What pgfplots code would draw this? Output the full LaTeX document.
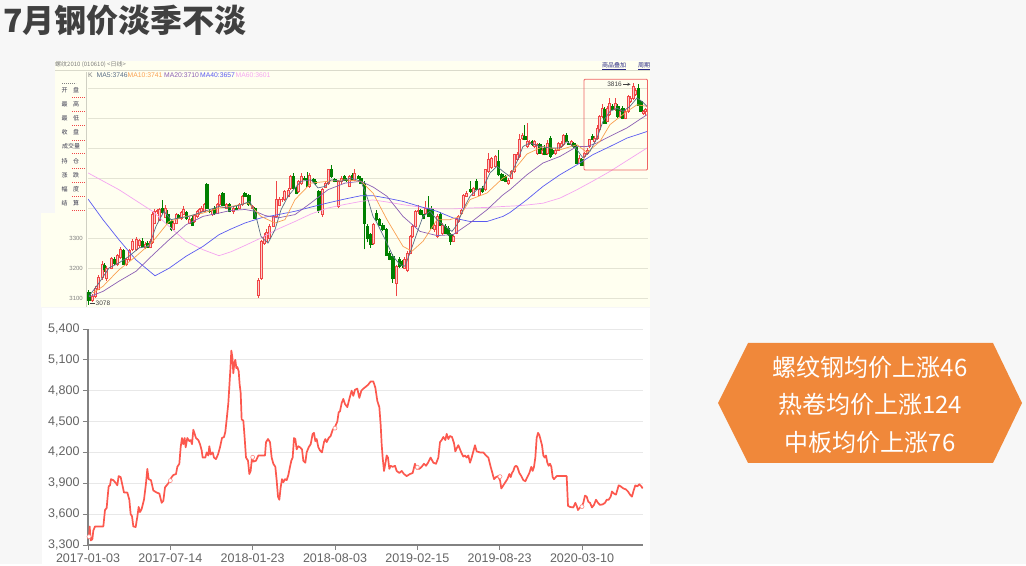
\documentclass[border=0pt]{standalone}
\usepackage{pgfplots}
\pgfplotsset{compat=1.18}
\usepackage{pgfplotstable}
\usepackage{fontspec}
\setmainfont{Liberation Sans}
\newfontfamily\cjk{Noto Sans CJK SC}

\definecolor{pagebg}{RGB}{247,247,247}
\definecolor{ivory}{RGB}{255,255,240}
\definecolor{ivgrid}{RGB}{228,228,212}
\definecolor{titlegray}{RGB}{64,64,64}
\definecolor{cred}{RGB}{240,70,70}
\definecolor{cpink}{RGB}{252,205,205}
\definecolor{cgreen}{RGB}{0,128,0}
\definecolor{ma5}{RGB}{90,110,135}
\definecolor{ma10}{RGB}{250,160,80}
\definecolor{ma20}{RGB}{140,95,180}
\definecolor{ma40}{RGB}{90,90,240}
\definecolor{ma60}{RGB}{245,165,240}
\definecolor{linered}{RGB}{252,88,78}
\definecolor{axisgray}{RGB}{130,130,130}
\definecolor{gridgray}{RGB}{232,232,232}
\definecolor{labgray}{RGB}{100,100,100}
\definecolor{hexorange}{RGB}{240,136,58}
\definecolor{boxred}{RGB}{240,100,100}
\definecolor{paneltext}{RGB}{60,60,80}

\pgfdeclareplotmark{nomark}{}

% candles: x position, open, high, low, close
\pgfplotstableread{
x o h l c
88.7 3118 3125 3078 3092
92.0 3092 3112 3085 3105
95.3 3105 3140 3100 3132
98.7 3130 3175 3125 3168
102.0 3168 3222 3160 3212
104.3 3210 3215 3188 3195
106.7 3165 3205 3158 3198
111.0 3200 3238 3195 3232
114.3 3230 3235 3210 3215
117.7 3212 3248 3205 3242
120.0 3235 3270 3230 3262
123.3 3258 3262 3210 3214
126.7 3212 3232 3205 3228
129.3 3230 3262 3222 3258
132.7 3262 3295 3255 3288
136.0 3262 3302 3258 3296
139.3 3275 3298 3265 3292
142.0 3290 3300 3270 3274
145.3 3268 3285 3262 3280
147.7 3282 3290 3266 3270
150.0 3270 3295 3265 3288
152.3 3285 3385 3280 3378
154.7 3350 3395 3345 3390
157.0 3388 3398 3380 3392
159.3 3360 3400 3355 3395
162.0 3398 3428 3380 3385
165.0 3370 3410 3365 3400
167.7 3378 3392 3345 3350
171.0 3355 3360 3322 3330
173.3 3330 3355 3325 3350
176.0 3350 3382 3345 3378
178.7 3376 3380 3362 3366
181.3 3365 3390 3360 3385
183.7 3380 3405 3375 3395
186.3 3385 3390 3360 3365
189.3 3350 3370 3345 3362
192.0 3367 3372 3340 3344
194.7 3355 3380 3350 3375
197.0 3372 3392 3365 3388
199.3 3383 3400 3378 3395
201.7 3390 3405 3385 3400
204.3 3389 3415 3385 3411
206.7 3478 3482 3395 3400
209.3 3390 3398 3382 3388
212.0 3378 3398 3372 3394
214.3 3400 3405 3378 3383
217.0 3383 3415 3380 3411
219.3 3411 3448 3408 3444
222.7 3450 3453 3405 3408
226.0 3400 3418 3395 3411
229.3 3411 3415 3385 3389
233.0 3389 3405 3380 3400
236.3 3398 3405 3392 3396
239.7 3400 3415 3395 3411
242.0 3411 3442 3408 3439
244.7 3450 3452 3436 3439
248.7 3444 3448 3408 3411
252.0 3400 3410 3395 3405
254.7 3400 3402 3362 3367
258.0 3110 3165 3100 3160
261.3 3165 3292 3160 3290
264.0 3283 3318 3278 3305
266.7 3290 3330 3285 3320
269.3 3300 3345 3295 3340
273.0 3340 3375 3335 3372
276.3 3372 3490 3368 3428
279.7 3410 3435 3405 3428
282.3 3428 3435 3420 3430
284.7 3428 3460 3425 3455
288.0 3440 3466 3435 3460
290.7 3466 3510 3460 3505
293.3 3505 3515 3462 3466
296.3 3466 3470 3445 3450
298.7 3455 3492 3450 3489
301.3 3483 3515 3478 3505
304.0 3500 3508 3492 3496
307.3 3500 3520 3470 3474
309.7 3472 3515 3468 3510
313.0 3495 3500 3485 3490
315.3 3488 3495 3478 3484
318.7 3455 3460 3383 3394
322.0 3378 3465 3370 3461
325.3 3470 3490 3465 3483
328.7 3483 3530 3478 3528
331.3 3528 3544 3500 3505
334.7 3495 3500 3485 3490
338.0 3405 3492 3400 3489
341.3 3489 3505 3480 3500
344.0 3505 3510 3490 3494
346.7 3494 3500 3485 3492
349.7 3472 3510 3470 3505
352.3 3510 3515 3490 3494
354.7 3494 3530 3490 3516
358.0 3505 3510 3495 3500
360.7 3500 3505 3480 3483
364.0 3483 3490 3262 3350
367.3 3340 3345 3285 3300
370.7 3311 3315 3268 3280
373.7 3283 3350 3278 3345
376.3 3383 3394 3355 3361
379.3 3361 3365 3340 3344
382.7 3344 3350 3322 3328
386.0 3328 3332 3240 3244
389.3 3250 3255 3225 3228
392.7 3239 3245 3150 3167
396.0 3150 3210 3106 3206
399.3 3228 3235 3200 3206
402.0 3222 3228 3200 3210
404.5 3200 3235 3195 3228
407.0 3194 3255 3185 3250
410.0 3250 3310 3245 3305
412.7 3305 3345 3300 3339
415.0 3339 3392 3335 3389
418.3 3389 3411 3380 3394
420.7 3394 3398 3375 3378
423.0 3378 3380 3362 3367
425.7 3383 3422 3378 3400
428.3 3400 3439 3370 3372
431.7 3400 3405 3330 3333
434.3 3328 3350 3320 3344
436.9 3305 3380 3300 3372
440.0 3378 3385 3340 3344
442.7 3317 3350 3310 3344
445.3 3339 3345 3315 3317
448.0 3333 3340 3305 3311
450.7 3311 3315 3278 3289
453.3 3289 3310 3285 3305
456.0 3317 3365 3312 3361
458.7 3355 3378 3350 3372
461.0 3383 3400 3378 3394
463.7 3400 3448 3395 3444
466.3 3440 3455 3435 3450
470.0 3461 3490 3450 3455
473.3 3444 3470 3440 3467
476.3 3489 3495 3460 3461
479.3 3444 3465 3440 3461
482.0 3467 3472 3450 3455
485.0 3461 3530 3455 3528
488.3 3522 3583 3518 3561
491.7 3535 3570 3530 3567
495.0 3539 3575 3535 3572
498.3 3555 3594 3505 3511
501.7 3511 3515 3490 3494
505.0 3505 3510 3485 3489
508.3 3483 3500 3478 3494
511.7 3500 3528 3495 3522
514.3 3522 3580 3518 3578
516.9 3561 3585 3555 3578
519.5 3572 3645 3565 3628
522.0 3633 3650 3628 3644
524.5 3639 3678 3625 3628
527.0 3605 3683 3600 3622
529.5 3616 3625 3610 3620
532.0 3622 3628 3605 3611
534.5 3605 3628 3600 3622
537.0 3583 3616 3578 3611
539.5 3611 3618 3580 3583
542.0 3583 3600 3575 3594
544.5 3600 3610 3575 3578
547.0 3583 3625 3578 3616
550.0 3633 3640 3565 3572
552.7 3594 3600 3575 3583
555.5 3583 3600 3578 3594
558.3 3594 3620 3590 3616
561.0 3605 3622 3600 3616
563.5 3611 3648 3605 3644
566.0 3644 3650 3620 3622
568.5 3616 3622 3610 3614
571.0 3611 3625 3605 3622
573.5 3616 3620 3600 3605
576.0 3605 3610 3545 3550
579.0 3550 3575 3545 3567
581.7 3561 3565 3540 3544
584.3 3572 3585 3565 3583
587.0 3583 3600 3578 3594
589.5 3605 3630 3600 3628
592.0 3639 3645 3625 3628
594.5 3622 3640 3615 3633
597.0 3633 3675 3628 3667
599.5 3661 3710 3655 3705
602.0 3705 3745 3700 3733
604.5 3728 3735 3680 3683
607.0 3689 3740 3685 3733
609.7 3711 3765 3705 3750
612.3 3739 3745 3725 3728
615.0 3728 3765 3725 3750
617.5 3739 3745 3700 3705
620.0 3705 3730 3700 3722
622.7 3733 3740 3695 3700
625.3 3700 3728 3695 3722
628.0 3722 3775 3718 3772
630.5 3755 3772 3750 3767
633.0 3767 3816 3760 3805
635.5 3778 3800 3775 3794
638.0 3800 3812 3740 3744
640.5 3755 3760 3720 3722
643.0 3716 3725 3710 3722
645.5 3722 3733 3705 3728
}\candles

% rebar price, x in chart position units
\pgfplotstableread{
x y
147 3380
149 3480
152 3345
157 3355
160 3440
165 3480
190 3480
195 3640
200 3660
203 3770
206 3870
210 3880
213 3940
220 3930
228 3900
232 3880
236 3970
242 3960
248 3870
252 3810
262 3810
268 3740
272 3600
276 3580
280 3480
287 3475
292 3575
296 3670
300 3620
305 3650
312 3740
318 3900
322 4040
326 3940
333 3930
340 3830
350 3810
358 3800
365 3710
370 3730
375 3860
380 3880
385 3900
390 3930
395 3960
400 3980
408 3990
412 4060
418 4090
422 4250
426 4340
430 4280
434 4340
437 4250
442 4340
448 4310
452 4320
456 4280
460 4420
464 4380
468 4340
475 4320
480 4280
485 4220
488 4150
496 4150
500 4200
505 4170
508 4260
512 4180
518 4200
522 4150
528 4135
534 4180
540 4250
546 4340
552 4350
556 4400
560 4520
565 4680
568 4840
571 5000
574 5190
577 5130
580 4970
583 5070
586 5100
589 5020
592 5030
596 4990
599 4860
602 4780
605 4520
610 4510
614 4340
618 4150
624 4120
628 3990
632 4020
636 4150
640 4110
648 4120
655 4170
675 4170
678 4300
684 4330
690 4300
695 4150
700 4090
706 4060
710 3930
714 3770
718 3740
722 3860
726 3940
730 3910
735 3940
740 3930
745 3980
750 4060
754 4120
758 4150
762 4340
766 4330
770 4230
775 4260
780 4250
786 4230
790 4120
796 4100
800 4200
806 4250
812 4280
818 4380
822 4390
826 4310
830 4330
835 4250
840 4220
846 4200
852 4300
856 4330
860 4300
866 4340
872 4360
878 4420
884 4440
888 4470
892 4500
896 4590
900 4600
905 4680
910 4720
915 4670
922 4640
928 4720
935 4800
940 4750
945 4810
952 4820
958 4730
964 4800
970 4820
978 4840
985 4860
992 4890
1000 4890
1006 4830
1012 4700
1018 4640
1022 4470
1025 4280
1028 4150
1032 4020
1036 4090
1040 4170
1044 4150
1048 4040
1052 4070
1058 4060
1065 4070
1070 4020
1078 4000
1085 4020
1092 3990
1100 3970
1110 3990
1118 4000
1125 4090
1130 4040
1138 4040
1145 4060
1152 4090
1158 4070
1164 4100
1172 4150
1180 4100
1188 4090
1195 4150
1200 4300
1205 4320
1210 4350
1216 4320
1220 4380
1225 4330
1230 4360
1236 4350
1242 4290
1246 4210
1250 4240
1255 4270
1260 4230
1265 4190
1270 4160
1275 4170
1280 4150
1285 4170
1290 4100
1295 4150
1300 4210
1305 4270
1310 4210
1320 4200
1330 4200
1338 4170
1345 4150
1352 4060
1358 3990
1362 3940
1368 3960
1374 3970
1380 3930
1384 3850
1390 3880
1396 3910
1402 3940
1408 3990
1412 3960
1416 4000
1420 4020
1424 4060
1428 4070
1432 4060
1438 4000
1444 3970
1450 3930
1456 3920
1462 3960
1468 4000
1474 4060
1478 4020
1482 4060
1486 4150
1490 4340
1494 4390
1498 4370
1502 4320
1506 4270
1510 4170
1514 4150
1518 4170
1522 4100
1526 4070
1530 4090
1534 4060
1538 3960
1542 3940
1550 3970
1580 3970
1584 3680
1590 3670
1600 3665
1606 3710
1610 3680
1614 3640
1620 3665
1626 3680
1630 3710
1635 3780
1640 3770
1645 3720
1650 3710
1656 3665
1662 3690
1668 3740
1674 3710
1680 3690
1688 3695
1695 3710
1700 3740
1706 3740
1712 3770
1716 3820
1722 3800
1728 3790
1736 3880
1742 3870
1750 3850
1758 3840
1764 3820
1770 3790
1776 3770
1780 3820
1786 3880
1792 3870
1798 3890
1804 3870
1808 3850
}\steel

\pgfplotsset{
  candle/.style={
    only marks, mark=nomark, scatter, point meta=y,
    visualization depends on={\thisrow{o} \as \vo},
    visualization depends on={\thisrow{h} \as \vh},
    visualization depends on={\thisrow{l} \as \vl},
    visualization depends on={\thisrow{c} \as \vc},
    scatter/@pre marker code/.code={%
      \pgfmathsetmacro\wtop{(\vh-\vl)*0.3}%
      \pgfmathsetmacro\bbot{(min(\vo,\vc)-\vl)*0.3}%
      \pgfmathsetmacro\btop{(max(\vo,\vc)-\vl)*0.3}%
      \ifdim\vc pt<\vo pt
        \draw[cgreen,line width=0.7pt] (0pt,0pt) -- (0pt,\wtop pt);
        \fill[cgreen] (-1.2pt,\bbot pt) rectangle (1.2pt,\btop pt);
      \else
        \draw[cred,line width=0.6pt] (0pt,0pt) -- (0pt,\bbot pt);
        \draw[cred,line width=0.6pt] (0pt,\btop pt) -- (0pt,\wtop pt);
        \draw[cred,fill=cpink,line width=0.55pt] (-1.05pt,\bbot pt) rectangle (1.05pt,\btop pt);
      \fi
    },
    scatter/@post marker code/.code={}
  },
  kpanel/.style={
    at={(88pt,257pt)}, anchor=south west, scale only axis,
    width=560pt, height=237pt,
    xmin=88, xmax=648, ymin=3070, ymax=3860,
    axis line style={draw=none}, tick style={draw=none},
    xtick=\empty, ytick={3100,3200,...,3800}, yticklabels={},
  }
}

\newcommand\smalltxt{\fontsize{6}{7}\selectfont}

\begin{document}
\begin{tikzpicture}[x=1pt,y=1pt]
\fill[pagebg] (0,0) rectangle (1026,564);

% title
\node[anchor=base west, inner sep=0, text=titlegray] at (3,531.5)
  {\cjk\bfseries\fontsize{32}{36}\selectfont 7月钢价淡季不淡};

% ---------- line chart panel ----------
\fill[white] (42,0) rectangle (650,256);
\begin{axis}[
  at={(88pt,19pt)}, anchor=south west, scale only axis,
  width=555pt, height=216pt,
  xmin=144, xmax=1809, ymin=3300, ymax=5400,
  ytick={3300,3600,...,5400},
  xtick={144,391,638,885,1132,1379,1626},
  xticklabels={2017-01-03,2017-07-14,2018-01-23,2018-08-03,2019-02-15,2019-08-23,2020-03-10},
  scaled y ticks=false,
  ymajorgrids, grid style={gridgray, line width=0.9pt},
  axis lines*=left,
  axis line style={axisgray, line width=1.2pt},
  tick style={axisgray, line width=0.9pt},
  major tick length=5pt, tick align=outside,
  xtick pos=bottom, ytick pos=left,
  ticklabel style={font=\fontsize{12.5}{14}\selectfont, text=labgray},
  /pgf/number format/1000 sep={,},
  /pgf/number format/assume math mode=true,
]
\addplot[linered, line width=1.7pt, mark=none, line join=round] table[x=x, y=y] {\steel};
\addplot[only marks, mark=*, mark size=2pt, mark options={fill=white, draw=linered!70, line width=0.6pt}]
  coordinates {(147,3381) (391,3926) (638,4153) (885,4436) (1132,4056) (1380,3965) (1626,3673)};
\end{axis}

% ---------- orange hexagon ----------
\fill[hexorange] (718,161) -- (748,221) -- (993,221) -- (1022,161) -- (993,101) -- (748,101) -- cycle;
\node[anchor=base, inner sep=0, text=white] at (870,187) {\cjk\fontsize{24}{28}\selectfont 螺纹钢均价上涨46};
\node[anchor=base, inner sep=0, text=white] at (870,150) {\cjk\fontsize{24}{28}\selectfont 热卷均价上涨124};
\node[anchor=base, inner sep=0, text=white] at (870,112) {\cjk\fontsize{24}{28}\selectfont 中板均价上涨76};

% ---------- candlestick panel ----------
\fill[ivory] (55,257) rectangle (650,503);
\fill[ivory] (41,257) rectangle (56,351);
\draw[ivgrid!90!gray, line width=0.6pt] (55,493.5) -- (650,493.5);
\draw[ivgrid!80!gray, line width=0.5pt] (86.5,257) -- (86.5,492);
\node[anchor=west, inner sep=0, text=gray] at (55,499) {\cjk\smalltxt 螺纹2010 (010610) <日线>};
\begin{scope}
\clip (55,257) rectangle (650,503);
\node[anchor=west, inner sep=0, text=paneltext!70!blue] at (602,498) {\cjk\smalltxt\underline{商品叠加}};
\node[anchor=west, inner sep=0, text=paneltext!70!blue] at (638,498) {\cjk\smalltxt\underline{周期}};
\end{scope}

% left labels
\draw[gray, line width=0.5pt, dash pattern=on 1.2pt off 0.8pt] (62,481) -- (76,481);
\foreach \a/\b/\yy in {开/盘/474, 最/高/460, 最/低/446, 收/盘/431.5, 持/仓/403, 涨/跌/389, 幅/度/375, 结/算/361}{
  \node[inner sep=0, text=paneltext] at (64.5,\yy) {\cjk\smalltxt\a};
  \node[inner sep=0, text=paneltext] at (76,\yy) {\cjk\smalltxt\b};
  \draw[cred, line width=0.5pt, dash pattern=on 1pt off 1pt] (72,\yy-7.5) -- (86,\yy-7.5);
}
\node[inner sep=0, text=paneltext] at (71,418) {\cjk\smalltxt 成交量};
\draw[cred, line width=0.5pt, dash pattern=on 1pt off 1pt] (72,410.5) -- (86,410.5);

% y labels
\foreach \v/\yy in {3300/326, 3200/296, 3100/266}{
  \node[anchor=east, inner sep=0, text=gray] at (83,\yy) {\fontsize{6}{7}\selectfont \v};
}

% grid layer
\begin{axis}[kpanel, ymajorgrids, grid style={ivgrid, line width=0.8pt}]
\addplot[draw=none, mark=none] coordinates {(88,3070) (648,3070)};
\end{axis}

% candles
\begin{axis}[kpanel]
\addplot[candle] table[x=x, y=l] {\candles};
\end{axis}

% moving averages on top
\begin{axis}[kpanel]
\addplot[ma60, line width=0.7pt, mark=none] coordinates {(88,3517) (119,3461) (153,3388) (169,3339) (186,3289) (203,3261) (219,3241) (231,3254) (245,3275) (261,3300) (278,3330) (295,3355) (311,3380) (328,3400) (345,3412) (361,3422) (373,3427) (387,3420) (403,3411) (420,3403) (437,3397) (453,3397) (470,3400) (487,3402) (503,3405) (515,3407) (527,3410) (543,3416) (560,3433) (577,3461) (593,3490) (610,3522) (627,3558) (647,3600)};
\addplot[ma40, line width=0.7pt, mark=none] coordinates {(88,3430) (103,3361) (119,3294) (136,3227) (155,3174) (169,3199) (186,3239) (203,3272) (219,3311) (231,3330) (245,3350) (261,3367) (278,3378) (295,3389) (311,3403) (328,3417) (345,3430) (361,3441) (373,3441) (387,3433) (403,3422) (420,3405) (437,3389) (453,3367) (470,3355) (487,3355) (503,3372) (510,3385) (527,3428) (543,3472) (560,3511) (577,3544) (593,3578) (610,3605) (627,3633) (647,3655)};
\addplot[ma20, line width=0.7pt, mark=none] coordinates {(89,3104) (103,3122) (119,3156) (136,3189) (153,3244) (169,3294) (186,3344) (203,3372) (219,3383) (231,3392) (245,3395) (255,3389) (265,3375) (278,3367) (295,3378) (311,3417) (328,3461) (345,3483) (361,3489) (373,3470) (387,3439) (403,3372) (420,3322) (437,3308) (453,3311) (470,3350) (487,3394) (503,3444) (510,3461) (527,3511) (543,3550) (560,3572) (577,3605) (587,3605) (597,3617) (610,3639) (627,3667) (647,3711)};
\addplot[ma10, line width=0.7pt, mark=none] coordinates {(93,3117) (103,3139) (119,3194) (136,3239) (153,3289) (169,3355) (186,3372) (203,3383) (219,3400) (231,3405) (248,3417) (261,3372) (275,3350) (285,3361) (295,3428) (311,3483) (328,3489) (345,3494) (361,3489) (373,3450) (387,3361) (403,3272) (412,3256) (423,3289) (437,3361) (450,3361) (460,3372) (470,3428) (487,3450) (503,3500) (510,3511) (527,3580) (543,3605) (560,3594) (577,3611) (587,3585) (600,3622) (610,3678) (627,3722) (637,3744) (647,3739)};
\addplot[ma5, line width=0.7pt, mark=none] coordinates {(89,3106) (99,3150) (109,3200) (119,3217) (129,3239) (139,3267) (149,3272) (156,3339) (164,3389) (171,3361) (179,3367) (189,3372) (199,3383) (209,3394) (219,3405) (228,3400) (241,3411) (250,3422) (256,3372) (261,3305) (268,3283) (275,3328) (281,3394) (288,3439) (295,3467) (301,3489) (311,3494) (318,3467) (325,3472) (331,3494) (341,3489) (351,3500) (361,3489) (368,3428) (373,3372) (377,3350) (387,3283) (393,3239) (400,3211) (405,3206) (410,3250) (417,3317) (423,3372) (430,3389) (437,3361) (443,3344) (452,3322) (457,3344) (463,3394) (470,3439) (477,3461) (483,3467) (490,3517) (497,3539) (503,3522) (510,3505) (517,3555) (523,3605) (530,3617) (540,3605) (550,3600) (560,3600) (567,3622) (577,3594) (583,3567) (590,3589) (597,3633) (603,3689) (610,3722) (617,3733) (623,3722) (630,3739) (637,3767) (642,3755) (647,3739)};
\end{axis}

% MA legend
\node[anchor=west, inner sep=0, text=gray] at (88,488.5) {\fontsize{6.8}{8}\selectfont K};
\node[anchor=west, inner sep=0, text=ma5] at (96.5,488.5) {\fontsize{6.8}{8}\selectfont MA5:3746};
\node[anchor=west, inner sep=0, text=ma10] at (127.5,488.5) {\fontsize{6.8}{8}\selectfont MA10:3741};
\node[anchor=west, inner sep=0, text=ma20] at (164,488.5) {\fontsize{6.8}{8}\selectfont MA20:3710};
\node[anchor=west, inner sep=0, text=ma40] at (200,488.5) {\fontsize{6.8}{8}\selectfont MA40:3657};
\node[anchor=west, inner sep=0, text=ma60] at (235.5,488.5) {\fontsize{6.8}{8}\selectfont MA60:3601};

% high / low marks and zoom box
\draw[boxred, line width=0.8pt, rounded corners=1pt] (584,484.7) rectangle (647.5,394);
\node[anchor=east, inner sep=0, text=darkgray] at (622,479.7) {\fontsize{6.5}{8}\selectfont 3816};
\draw[darkgray, line width=0.4pt, -stealth] (623,479.7) -- (630.5,479.7);
\draw[darkgray, line width=0.4pt] (89.5,261) -- (95,261);
\node[anchor=west, inner sep=0, text=darkgray] at (95.5,261) {\fontsize{6.5}{8}\selectfont 3078};
\end{tikzpicture}
\end{document}
